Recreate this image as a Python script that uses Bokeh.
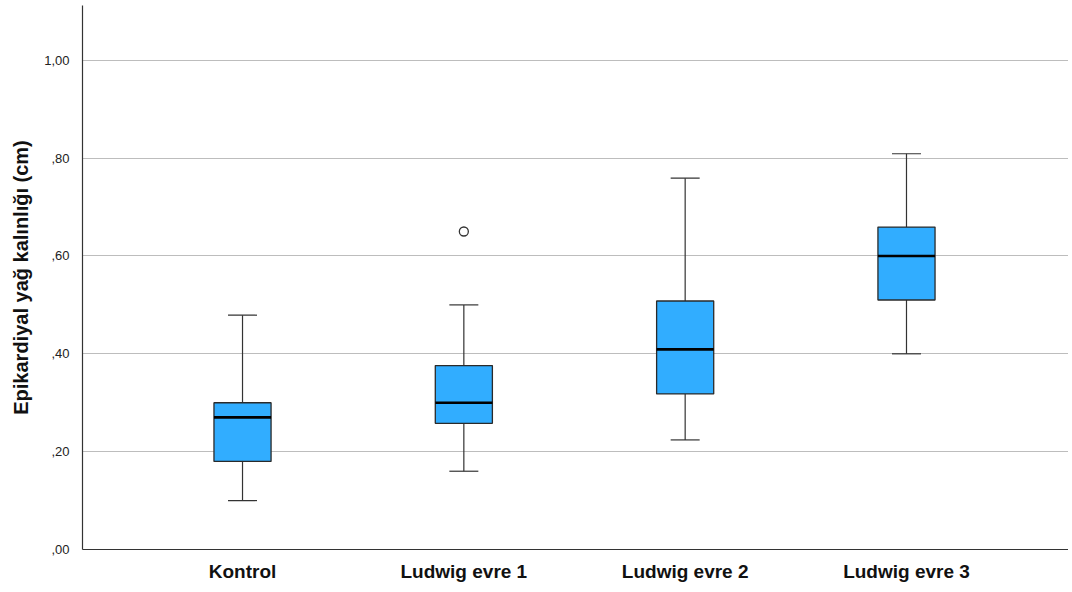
from bokeh.plotting import figure
from bokeh.models import FixedTicker, Range1d
from bokeh.embed import file_html
from bokeh.resources import INLINE

categories = ["Kontrol", "Ludwig evre 1", "Ludwig evre 2", "Ludwig evre 3"]
whisker_low = [0.10, 0.16, 0.224, 0.40]
q1 = [0.18, 0.258, 0.318, 0.51]
median = [0.27, 0.30, 0.409, 0.60]
q3 = [0.30, 0.376, 0.508, 0.659]
whisker_high = [0.479, 0.50, 0.759, 0.809]
outlier_group = [2]
outlier_value = [0.65]
y_ticks = [0.0, 0.2, 0.4, 0.6, 0.8, 1.0]
y_tick_labels = [",00", ",20", ",40", ",60", ",80", "1,00"]

xs = list(range(1, len(categories) + 1))
box_w = 0.258
cap_w = 0.131

p = figure(width=1068, height=592, output_backend="svg", toolbar_location=None,
           x_range=Range1d(1 - 0.723, 4 + 0.732), y_range=Range1d(0, 1.112),
           min_border_left=82, min_border_right=0, min_border_top=5, min_border_bottom=43)
p.outline_line_color = None
p.background_fill_color = "white"
p.border_fill_color = "white"

# whiskers
p.segment(x0=xs, y0=whisker_low, x1=xs, y1=q1, line_color="#333333", line_width=1.2)
p.segment(x0=xs, y0=q3, x1=xs, y1=whisker_high, line_color="#333333", line_width=1.2)
p.segment(x0=[x - cap_w / 2 for x in xs], y0=whisker_low, x1=[x + cap_w / 2 for x in xs], y1=whisker_low,
          line_color="#333333", line_width=1.2)
p.segment(x0=[x - cap_w / 2 for x in xs], y0=whisker_high, x1=[x + cap_w / 2 for x in xs], y1=whisker_high,
          line_color="#333333", line_width=1.2)
# boxes
p.vbar(x=xs, bottom=q1, top=q3, width=box_w, fill_color="#31ADFF", line_color="#2a2a2a", line_width=1.3)
# medians
p.segment(x0=[x - box_w / 2 for x in xs], y0=median, x1=[x + box_w / 2 for x in xs], y1=median,
          line_color="black", line_width=2.6)
# outliers
p.scatter(x=outlier_group, y=outlier_value, size=9, fill_color="white", line_color="#333333", line_width=1.3)

p.xgrid.grid_line_color = None
p.ygrid.ticker = FixedTicker(ticks=y_ticks[1:])
p.ygrid.grid_line_color = "#bdbdbd"
p.ygrid.grid_line_width = 1.2

p.yaxis.ticker = FixedTicker(ticks=y_ticks)
p.yaxis.major_label_overrides = {t: l for t, l in zip(y_ticks, y_tick_labels)}
p.yaxis.major_tick_line_color = None
p.yaxis.minor_tick_line_color = None
p.yaxis.major_label_standoff = 7
p.yaxis.major_label_text_font = "Liberation Sans"
p.yaxis.major_label_text_font_size = "13px"
p.yaxis.major_label_text_color = "#222222"
p.yaxis.axis_label = "Epikardiyal yağ kalınlığı (cm)"
p.yaxis.axis_label_text_font = "Liberation Sans"
p.yaxis.axis_label_text_font_style = "bold"
p.yaxis.axis_label_text_font_size = "20px"
p.yaxis.axis_label_text_color = "#111111"
p.yaxis.axis_label_standoff = 9
p.yaxis.axis_line_color = "#333333"
p.yaxis.axis_line_width = 1.2

p.xaxis.ticker = FixedTicker(ticks=xs)
p.xaxis.major_label_overrides = {x: c for x, c in zip(xs, categories)}
p.xaxis.major_tick_line_color = None
p.xaxis.minor_tick_line_color = None
p.xaxis.major_label_standoff = 5
p.xaxis.major_label_text_font = "Liberation Sans"
p.xaxis.major_label_text_font_style = "bold"
p.xaxis.major_label_text_font_size = "19px"
p.xaxis.major_label_text_color = "#111111"
p.xaxis.axis_line_color = "#333333"
p.xaxis.axis_line_width = 1.2

open("out.html", "w").write(file_html(p, INLINE))
